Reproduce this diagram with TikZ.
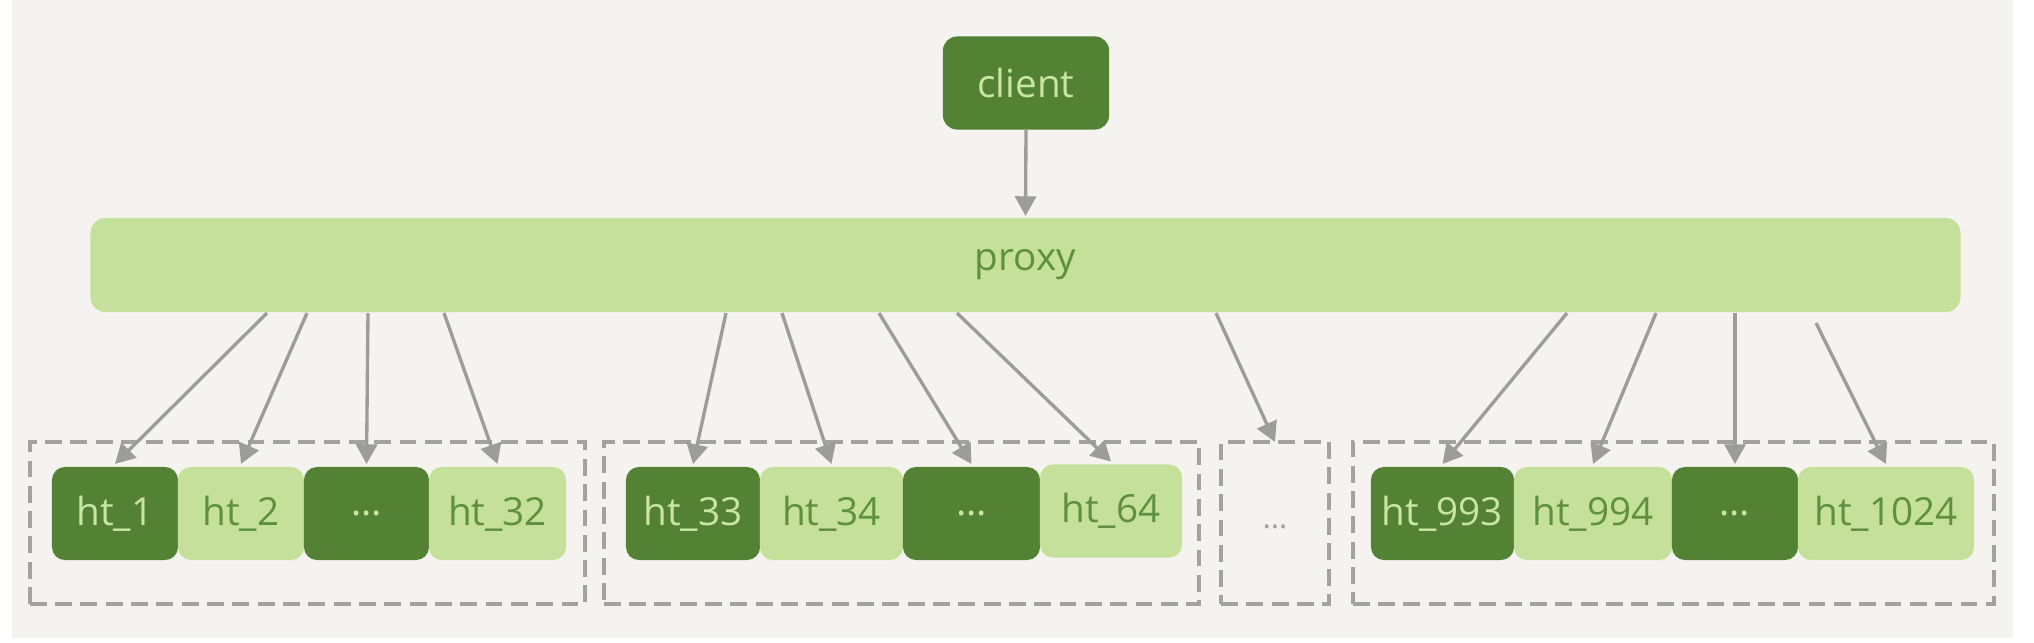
\documentclass[tikz,border=0pt]{standalone}
\usepackage{fontspec}
\setmainfont{Open Sans}
\usetikzlibrary{arrows.meta}
\definecolor{bg}{HTML}{F4F3EF}
\definecolor{dkg}{HTML}{548235}
\definecolor{ltg}{HTML}{C5E09A}
\definecolor{dktxt}{HTML}{C8E5A4}
\definecolor{lttxt}{HTML}{5E9040}
\definecolor{arrg}{HTML}{9C9C9A}
\definecolor{dashg}{HTML}{A2A29E}
\begin{document}
\begin{tikzpicture}[x=0.01cm,y=-0.01cm,
  box/.style={rounded corners=0.13cm, inner sep=0pt, outer sep=0pt, minimum height=0.93cm, font=\fontsize{11}{13}\selectfont},
  dk/.style={box, fill=dkg, text=dktxt},
  lt/.style={box, fill=ltg, text=lttxt},
  grp/.style={draw=dashg, line width=1.2pt, dash pattern=on 4.8pt off 2.4pt, inner sep=0pt, outer sep=0pt, minimum height=1.62cm},
  arr/.style={draw=arrg, line width=0.95pt, -{Triangle[length=5.6pt,width=6pt]}}
]
\useasboundingbox (0,0) rectangle (2034,642);
\fill[white] (0,0) rectangle (2034,642);
\fill[bg] (12,0) rectangle (2013,638);

% top
\node[dk, minimum width=1.66cm, rounded corners=0.14cm] (client) at (1026,83) {client};
\node[lt, minimum width=18.69cm, minimum height=0.94cm, rounded corners=0.15cm] (proxy) at (1025.5,265) {proxy};

% groups
\node[grp, minimum width=5.55cm] (g1) at (307.5,523) {};
\node[grp, minimum width=5.95cm] (g2) at (901.5,523) {};
\node[grp, minimum width=1.08cm, text=dashg, font=\fontsize{9}{11}\selectfont] (g3) at (1275,523) {\raisebox{-0.12cm}{\dots}};
\node[grp, minimum width=6.41cm] (g4) at (1673.5,523) {};

% group 1
\node[dk, minimum width=1.26cm] (ht1) at (115,513.5) {ht\_1};
\node[lt, minimum width=1.26cm] (ht2) at (241,513.5) {ht\_2};
\node[dk, minimum width=1.25cm] (d1) at (366.5,513.5) {\dots};
\node[lt, minimum width=1.37cm] (ht32) at (497.5,513.5) {ht\_32};
% group 2
\node[dk, minimum width=1.34cm] (ht33) at (693,513.5) {ht\_33};
\node[lt, minimum width=1.43cm] (ht34) at (831.5,513.5) {ht\_34};
\node[dk, minimum width=1.37cm] (d2) at (971.5,513.5) {\dots};
\node[lt, minimum width=1.42cm] (ht64) at (1111,511) {ht\_64};
% group 4
\node[dk, minimum width=1.43cm] (ht993) at (1442.5,513.5) {ht\_993};
\node[lt, minimum width=1.58cm] (ht994) at (1593,513.5) {ht\_994};
\node[dk, minimum width=1.26cm] (d4) at (1735,513.5) {\dots};
\node[lt, minimum width=1.76cm] (ht1024) at (1886,513.5) {ht\_1024};

% start points on proxy
\coordinate (p1) at (267,313);
\coordinate (p2) at (307,313);
\coordinate (p3) at (368,313);
\coordinate (p4) at (444,313);
\coordinate (p5) at (726,313);
\coordinate (p6) at (782,313);
\coordinate (p7) at (879,313);
\coordinate (p8) at (957,313);
\coordinate (p9) at (1216,313);
\coordinate (p10) at (1567,313);
\coordinate (p11) at (1656,313);
\coordinate (p12) at (1735,313);
\coordinate (p13) at (1816,323);

\draw[arr] (client.south) -- ([yshift=0.02cm]proxy.north);
\draw[arr] (p1) -- ([yshift=0.03cm]ht1.north);
\draw[arr] (p2) -- ([yshift=0.03cm]ht2.north);
\draw[arr] (p3) -- ([yshift=0.03cm]d1.north);
\draw[arr] (p4) -- ([yshift=0.03cm]ht32.north);
\draw[arr] (p5) -- ([yshift=0.03cm]ht33.north);
\draw[arr] (p6) -- ([yshift=0.03cm]ht34.north);
\draw[arr] (p7) -- ([yshift=0.03cm]d2.north);
\draw[arr] (p8) -- ([yshift=0.03cm]ht64.north);
\draw[arr] (p9) -- (g3.north);
\draw[arr] (p10) -- ([yshift=0.03cm]ht993.north);
\draw[arr] (p11) -- ([yshift=0.03cm]ht994.north);
\draw[arr] (p12) -- ([yshift=0.03cm]d4.north);
\draw[arr] (p13) -- ([yshift=0.03cm]ht1024.north);
\end{tikzpicture}
\end{document}
